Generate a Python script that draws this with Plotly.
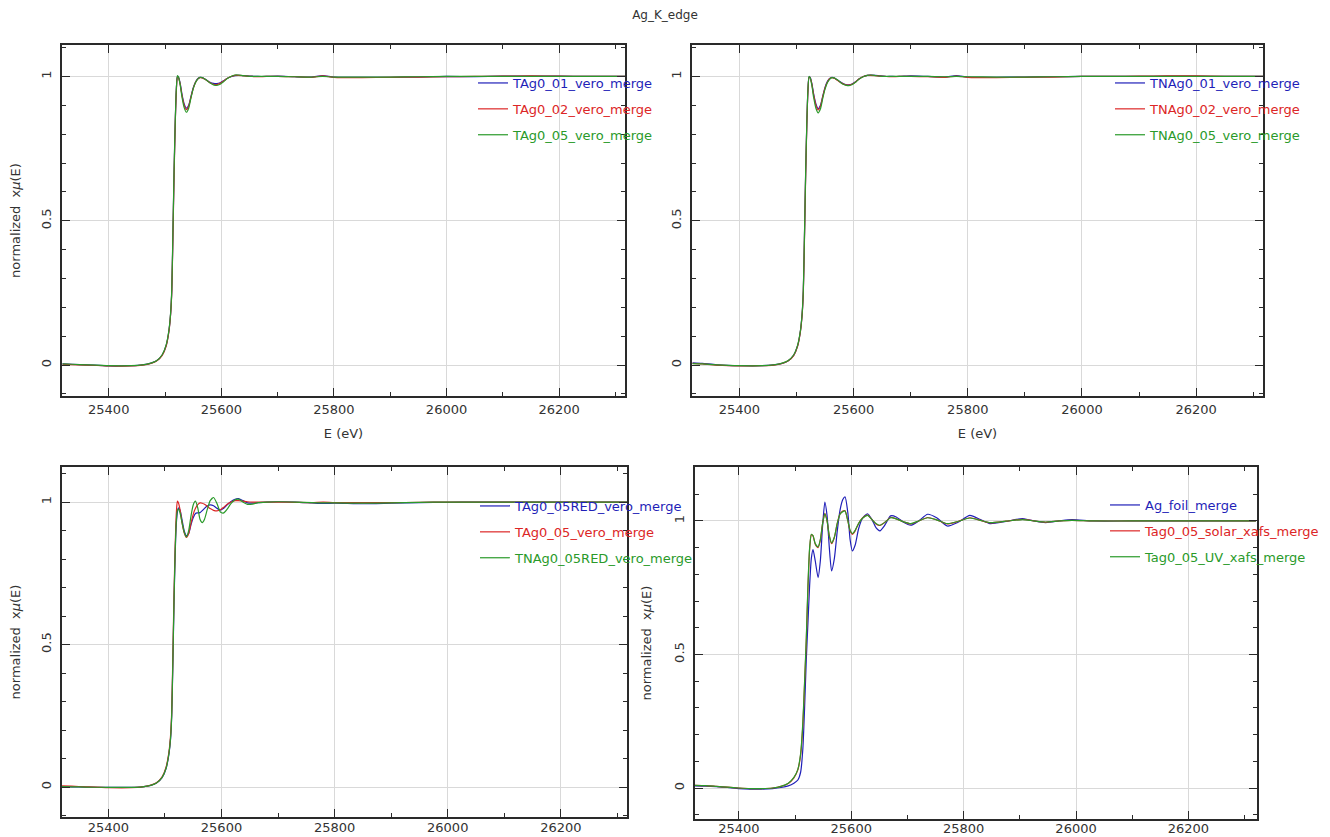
import plotly.graph_objects as go

# ---------------- data ----------------
E_EDGE = [25318, 25335, 25360, 25400, 25440, 25460, 25475, 25485, 25495, 25502,
          25507, 25510, 25512, 25514, 25516, 25518, 25520, 25522, 25524, 25527,
          25530, 25534, 25538, 25542, 25546, 25550, 25554, 25558, 25562, 25566,
          25570, 25575, 25580, 25586, 25592, 25598, 25604, 25610, 25617, 25624,
          25630, 25638, 25646, 25655, 25665, 25680, 25700, 25730, 25760, 25780,
          25800, 25850, 25900, 25950, 26000, 26050, 26100, 26150, 26200, 26250,
          26317]

TAG0_01_VERO = [0.004, 0.003, 0.001, -0.003, -0.002, 0.001, 0.007, 0.015, 0.035, 0.068,
                0.12, 0.18, 0.26, 0.45, 0.66, 0.83, 0.95, 1.0, 0.998, 0.975,
                0.94, 0.905, 0.89, 0.9, 0.93, 0.96, 0.98, 0.992, 0.997, 0.996,
                0.992, 0.986, 0.98, 0.976, 0.975, 0.978, 0.985, 0.993, 0.999, 1.003,
                1.004, 1.003, 1.002, 1.001, 1.0, 1.0, 1.001, 0.999, 0.998, 1.003,
                0.998, 0.997, 0.997, 0.998, 1.0, 0.999, 1.001, 1.001, 1.001, 1.0,
                1.0]
TAG0_02_VERO = [0.003, 0.002, 0.0, -0.003, -0.003, 0.0, 0.006, 0.014, 0.034, 0.066,
                0.118, 0.178, 0.255, 0.44, 0.65, 0.825, 0.945, 0.998, 0.996, 0.972,
                0.935, 0.9, 0.885, 0.897, 0.928, 0.958, 0.979, 0.991, 0.996, 0.995,
                0.991, 0.985, 0.978, 0.973, 0.972, 0.976, 0.984, 0.993, 1.0, 1.004,
                1.004, 1.003, 1.001, 1.0, 0.999, 1.0, 1.0, 0.999, 0.997, 1.002,
                0.997, 0.996, 0.997, 0.998, 0.999, 1.0, 1.001, 1.002, 1.001, 1.0,
                1.0]
TAG0_05_VERO = [0.004, 0.003, 0.001, -0.002, -0.002, 0.001, 0.007, 0.015, 0.036, 0.07,
                0.122, 0.183, 0.265, 0.46, 0.67, 0.835, 0.955, 1.003, 0.997, 0.97,
                0.93, 0.892, 0.876, 0.89, 0.925, 0.957, 0.978, 0.991, 0.997, 0.996,
                0.992, 0.985, 0.977, 0.971, 0.969, 0.973, 0.982, 0.992, 1.0, 1.005,
                1.005, 1.003, 1.001, 1.0, 1.0, 1.0, 1.0, 0.999, 0.998, 1.0,
                0.998, 0.998, 0.998, 0.999, 1.0, 1.0, 1.0, 1.0, 1.0, 1.0,
                1.0]

TNAG0_01_VERO = [0.008, 0.006, 0.001, -0.002, -0.002, 0.001, 0.006, 0.014, 0.034, 0.067,
                 0.12, 0.18, 0.26, 0.45, 0.66, 0.83, 0.95, 0.998, 0.997, 0.975,
                 0.94, 0.905, 0.888, 0.9, 0.932, 0.962, 0.982, 0.993, 0.997, 0.995,
                 0.99, 0.983, 0.977, 0.972, 0.971, 0.975, 0.983, 0.992, 1.0, 1.004,
                 1.005, 1.004, 1.002, 1.0, 1.0, 1.0, 1.002, 1.0, 0.998, 1.003,
                 0.998, 0.997, 0.998, 0.999, 1.0, 1.0, 1.0, 1.001, 1.001, 1.0,
                 1.0]
TNAG0_02_VERO = [0.006, 0.004, 0.0, -0.003, -0.002, 0.0, 0.006, 0.014, 0.033, 0.066,
                 0.118, 0.177, 0.255, 0.44, 0.65, 0.825, 0.945, 0.997, 0.995, 0.972,
                 0.936, 0.9, 0.884, 0.897, 0.93, 0.96, 0.98, 0.992, 0.996, 0.994,
                 0.989, 0.982, 0.976, 0.971, 0.97, 0.974, 0.982, 0.992, 1.0, 1.004,
                 1.004, 1.003, 1.001, 1.0, 0.999, 1.0, 1.0, 0.999, 0.997, 1.001,
                 0.997, 0.996, 0.997, 0.998, 1.0, 1.0, 1.001, 1.002, 1.002, 1.0,
                 1.0]
TNAG0_05_VERO = [0.005, 0.004, 0.001, -0.002, -0.002, 0.001, 0.007, 0.015, 0.035, 0.069,
                 0.121, 0.182, 0.262, 0.455, 0.665, 0.833, 0.952, 1.0, 0.995, 0.968,
                 0.928, 0.89, 0.874, 0.888, 0.924, 0.956, 0.978, 0.99, 0.996, 0.995,
                 0.99, 0.983, 0.975, 0.97, 0.968, 0.972, 0.981, 0.991, 0.999, 1.004,
                 1.005, 1.003, 1.001, 1.0, 1.0, 1.0, 1.0, 1.0, 0.999, 1.0,
                 0.999, 0.998, 0.998, 0.999, 1.0, 1.0, 1.0, 1.0, 1.0, 1.0,
                 1.0]

TAG0_05RED_VERO = [0.002, 0.001, 0.0, -0.001, -0.001, 0.001, 0.006, 0.014, 0.033, 0.065,
                   0.115, 0.17, 0.25, 0.43, 0.64, 0.81, 0.92, 0.965, 0.98, 0.97,
                   0.94, 0.9, 0.882, 0.89, 0.92, 0.945, 0.96, 0.962, 0.963, 0.97,
                   0.978, 0.986, 0.99, 0.987, 0.978, 0.972, 0.978, 0.99, 1.002, 1.01,
                   1.012, 1.005, 0.997, 0.996, 0.998, 1.0, 1.001, 1.0, 0.997, 0.995,
                   0.996, 0.994, 0.996, 0.998, 0.999, 1.0, 1.0, 1.0, 1.0, 1.0,
                   1.0]
TNAG0_05RED_VERO = [0.002, 0.001, 0.0, -0.001, -0.001, 0.001, 0.006, 0.014, 0.034, 0.066,
                    0.117, 0.173, 0.255, 0.44, 0.65, 0.82, 0.93, 0.97, 0.975, 0.96,
                    0.93, 0.895, 0.878, 0.9, 0.95, 0.99, 1.003, 0.98, 0.94, 0.928,
                    0.94, 0.975, 1.005, 1.016, 0.995, 0.965, 0.962, 0.975, 0.995, 1.008,
                    1.01, 1.0, 0.992, 0.993, 0.998, 1.0, 1.001, 1.0, 0.998, 0.997,
                    0.997, 0.996, 0.997, 0.999, 1.0, 1.0, 1.0, 1.0, 1.0, 1.0,
                    1.0]

E_FOIL = [25322, 25340, 25360, 25380, 25400, 25420, 25440, 25460, 25475, 25488,
          25498, 25505, 25510, 25514, 25517, 25520, 25523, 25526, 25529, 25532,
          25536, 25541, 25545, 25549, 25553, 25557, 25561, 25565, 25570, 25575,
          25580, 25585, 25589, 25594, 25598, 25602, 25607, 25613, 25620, 25629,
          25637, 25644, 25651, 25660, 25670, 25680, 25693, 25706, 25720, 25736,
          25752, 25771, 25790, 25811, 25830, 25847, 25875, 25905, 25925, 25946,
          25970, 25993, 26030, 26100, 26200, 26320]
AG_FOIL = [0.008, 0.007, 0.005, 0.002, -0.002, -0.004, -0.004, -0.002, 0.002, 0.008,
           0.018, 0.03, 0.06, 0.15, 0.3, 0.48, 0.62, 0.76, 0.86, 0.893,
           0.85, 0.788, 0.85, 0.98, 1.071, 1.02, 0.9, 0.813, 0.86, 0.96,
           1.04, 1.08, 1.09, 1.03, 0.93, 0.888, 0.91, 0.97, 1.01, 1.027,
           1.005, 0.975, 0.963, 0.985, 1.019, 1.015, 0.995, 0.984, 1.0, 1.025,
           1.012, 0.981, 0.995, 1.021, 1.005, 0.99, 0.998, 1.009, 1.0, 0.994,
           1.0, 1.005, 1.0, 1.0, 1.0, 1.0]
TAG0_05_SOLAR = [0.01, 0.009, 0.006, 0.003, 0.0, -0.002, -0.002, 0.0, 0.006, 0.017,
                 0.038, 0.068, 0.125, 0.24, 0.39, 0.55, 0.75, 0.895, 0.948, 0.944,
                 0.913, 0.9, 0.928, 0.99, 1.028, 1.0, 0.943, 0.915, 0.938, 0.99,
                 1.026, 1.037, 1.038, 1.0, 0.963, 0.95, 0.963, 0.99, 1.011, 1.022,
                 1.005, 0.989, 0.983, 0.995, 1.013, 1.008, 0.997, 0.989, 1.0, 1.013,
                 1.004, 0.989, 0.998, 1.012, 1.002, 0.993, 0.999, 1.006, 1.0, 0.995,
                 1.0, 1.002, 1.0, 1.0, 1.0, 1.0]
TAG0_05_UV = [0.01, 0.009, 0.006, 0.003, 0.0, -0.002, -0.002, 0.0, 0.006, 0.018,
              0.04, 0.07, 0.13, 0.25, 0.4, 0.56, 0.76, 0.9, 0.95, 0.945,
              0.915, 0.903, 0.93, 0.99, 1.027, 1.0, 0.945, 0.918, 0.94, 0.99,
              1.025, 1.035, 1.037, 1.0, 0.965, 0.953, 0.965, 0.99, 1.01, 1.021,
              1.005, 0.99, 0.984, 0.995, 1.012, 1.008, 0.997, 0.99, 1.0, 1.012,
              1.004, 0.99, 0.998, 1.011, 1.002, 0.994, 0.999, 1.005, 1.0, 0.996,
              1.0, 1.002, 1.0, 1.0, 1.0, 1.0]

# ---------------- styling ----------------
OFF = 8                      # page body margin of the browser
W, H = 1330 - OFF, 837 - OFF  # figure size so that screen px = figure px + OFF
BLUE, RED, GREEN = "#1f1fb8", "#dc2626", "#2a9a2a"
FONT = "DejaVu Sans"
TXT = "#333333"
FRAME = "#2a2a2a"
GRID = "#d9d9d9"
YTITLE = "normalized  x<i>μ</i>(E)"


def px_x(a, b):
    return [(a - OFF) / W, (b - OFF) / W]


def px_y(top, bottom):
    return [1 - (bottom - OFF) / H, 1 - (top - OFF) / H]


panels = [
    dict(energy=E_EDGE, legend="legend",
         series=[("TAg0_01_vero_merge", TAG0_01_VERO, BLUE),
                 ("TAg0_02_vero_merge", TAG0_02_VERO, RED),
                 ("TAg0_05_vero_merge", TAG0_05_VERO, GREEN)],
         xdom=px_x(62, 625), ydom=px_y(45, 396), xr=[25317, 26317], yr=[-0.107, 1.109],
         xtitle="E (eV)", ytitle=YTITLE, xstand=1),
    dict(energy=E_EDGE, legend="legend2",
         series=[("TNAg0_01_vero_merge", TNAG0_01_VERO, BLUE),
                 ("TNAg0_02_vero_merge", TNAG0_02_VERO, RED),
                 ("TNAg0_05_vero_merge", TNAG0_05_VERO, GREEN)],
         xdom=px_x(692, 1263), ydom=px_y(45, 396), xr=[25317, 26317], yr=[-0.107, 1.109],
         xtitle="E (eV)", ytitle=None, xstand=1),
    dict(energy=E_EDGE, legend="legend3",
         series=[("TAg0_05RED_vero_merge", TAG0_05RED_VERO, BLUE),
                 ("TAg0_05_vero_merge", TAG0_05_VERO, RED),
                 ("TNAg0_05RED_vero_merge", TNAG0_05RED_VERO, GREEN)],
         xdom=px_x(62, 627), ydom=px_y(467, 817), xr=[25318, 26317], yr=[-0.105, 1.123],
         xtitle=None, ytitle=YTITLE, xstand=-2),
    dict(energy=E_FOIL, legend="legend4",
         series=[("Ag_foil_merge", AG_FOIL, BLUE),
                 ("Tag0_05_solar_xafs_merge", TAG0_05_SOLAR, RED),
                 ("Tag0_05_UV_xafs_merge", TAG0_05_UV, GREEN)],
         xdom=px_x(695, 1257), ydom=px_y(467, 819), xr=[25322, 26322], yr=[-0.116, 1.202],
         xtitle=None, ytitle=YTITLE, xstand=-3),
]

# legend top-left corners (screen px)
legend_pos = {
    "legend": (473, 68),
    "legend2": (1110, 68),
    "legend3": (475, 491),
    "legend4": (1105, 490),
}

fig = go.Figure()
layout = {}
for i, p in enumerate(panels, start=1):
    xa = "x" if i == 1 else f"x{i}"
    ya = "y" if i == 1 else f"y{i}"
    for k, (name, vals, color) in enumerate(p["series"]):
        fig.add_trace(go.Scatter(
            x=p["energy"], y=vals, mode="lines",
            line=dict(color=color, width=1.2, shape="spline", smoothing=0.6),
            name=f'<span style="color:{color}">{name}</span>',
            legend=p["legend"], legendgroup=f"{p['legend']}_{k}",
            xaxis=xa, yaxis=ya, hoverinfo="x+y",
        ))
    common = dict(showgrid=True, gridcolor=GRID, gridwidth=1, zeroline=False,
                  showline=True, linecolor=FRAME, linewidth=1.5, mirror="allticks",
                  ticks="inside", tickcolor=FRAME, tickwidth=1, automargin=False,
                  tickfont=dict(family=FONT, size=13, color=TXT))
    layout["xaxis" if i == 1 else f"xaxis{i}"] = dict(
        common, domain=p["xdom"], range=p["xr"], anchor=ya,
        tick0=0, dtick=200, ticklen=8, tickformat="d",
        minor=dict(tick0=0, dtick=100, ticks="inside", ticklen=4, tickcolor=FRAME, showgrid=False),
        ticklabelstandoff=p["xstand"],
        title=dict(text=p["xtitle"], standoff=13, font=dict(family=FONT, size=13, color=TXT)) if p["xtitle"] else None,
    )
    layout["yaxis" if i == 1 else f"yaxis{i}"] = dict(
        common, domain=p["ydom"], range=p["yr"], anchor=xa,
        tick0=0, dtick=0.5, ticklen=8, tickangle=-90,
        minor=dict(tick0=0, dtick=0.1, ticks="inside", ticklen=4, tickcolor=FRAME, showgrid=False),
        ticklabelstandoff=4,
        title=dict(text=p["ytitle"], standoff=17, font=dict(family=FONT, size=13, color=TXT)) if p["ytitle"] else None,
    )

for lg, (lx, ly) in legend_pos.items():
    layout[lg] = dict(x=(lx - OFF) / W, y=1 - (ly - OFF) / H, xanchor="left", yanchor="top",
                      bgcolor="rgba(0,0,0,0)", borderwidth=0, tracegroupgap=6,
                      font=dict(family=FONT, size=13, color=TXT), itemwidth=30)

fig.update_layout(
    width=W, height=H,
    margin=dict(l=0, r=0, t=0, b=0),
    paper_bgcolor="white", plot_bgcolor="white",
    font=dict(family=FONT, size=13, color=TXT),
    title=dict(text="Ag_K_edge", x=(665 - OFF) / W, xanchor="center", y=1 - 3 / H, yanchor="top",
               pad=dict(t=0, b=0), font=dict(family=FONT, size=12, color=TXT)),
    showlegend=True,
    **layout,
)

fig.write_html("out.html")
